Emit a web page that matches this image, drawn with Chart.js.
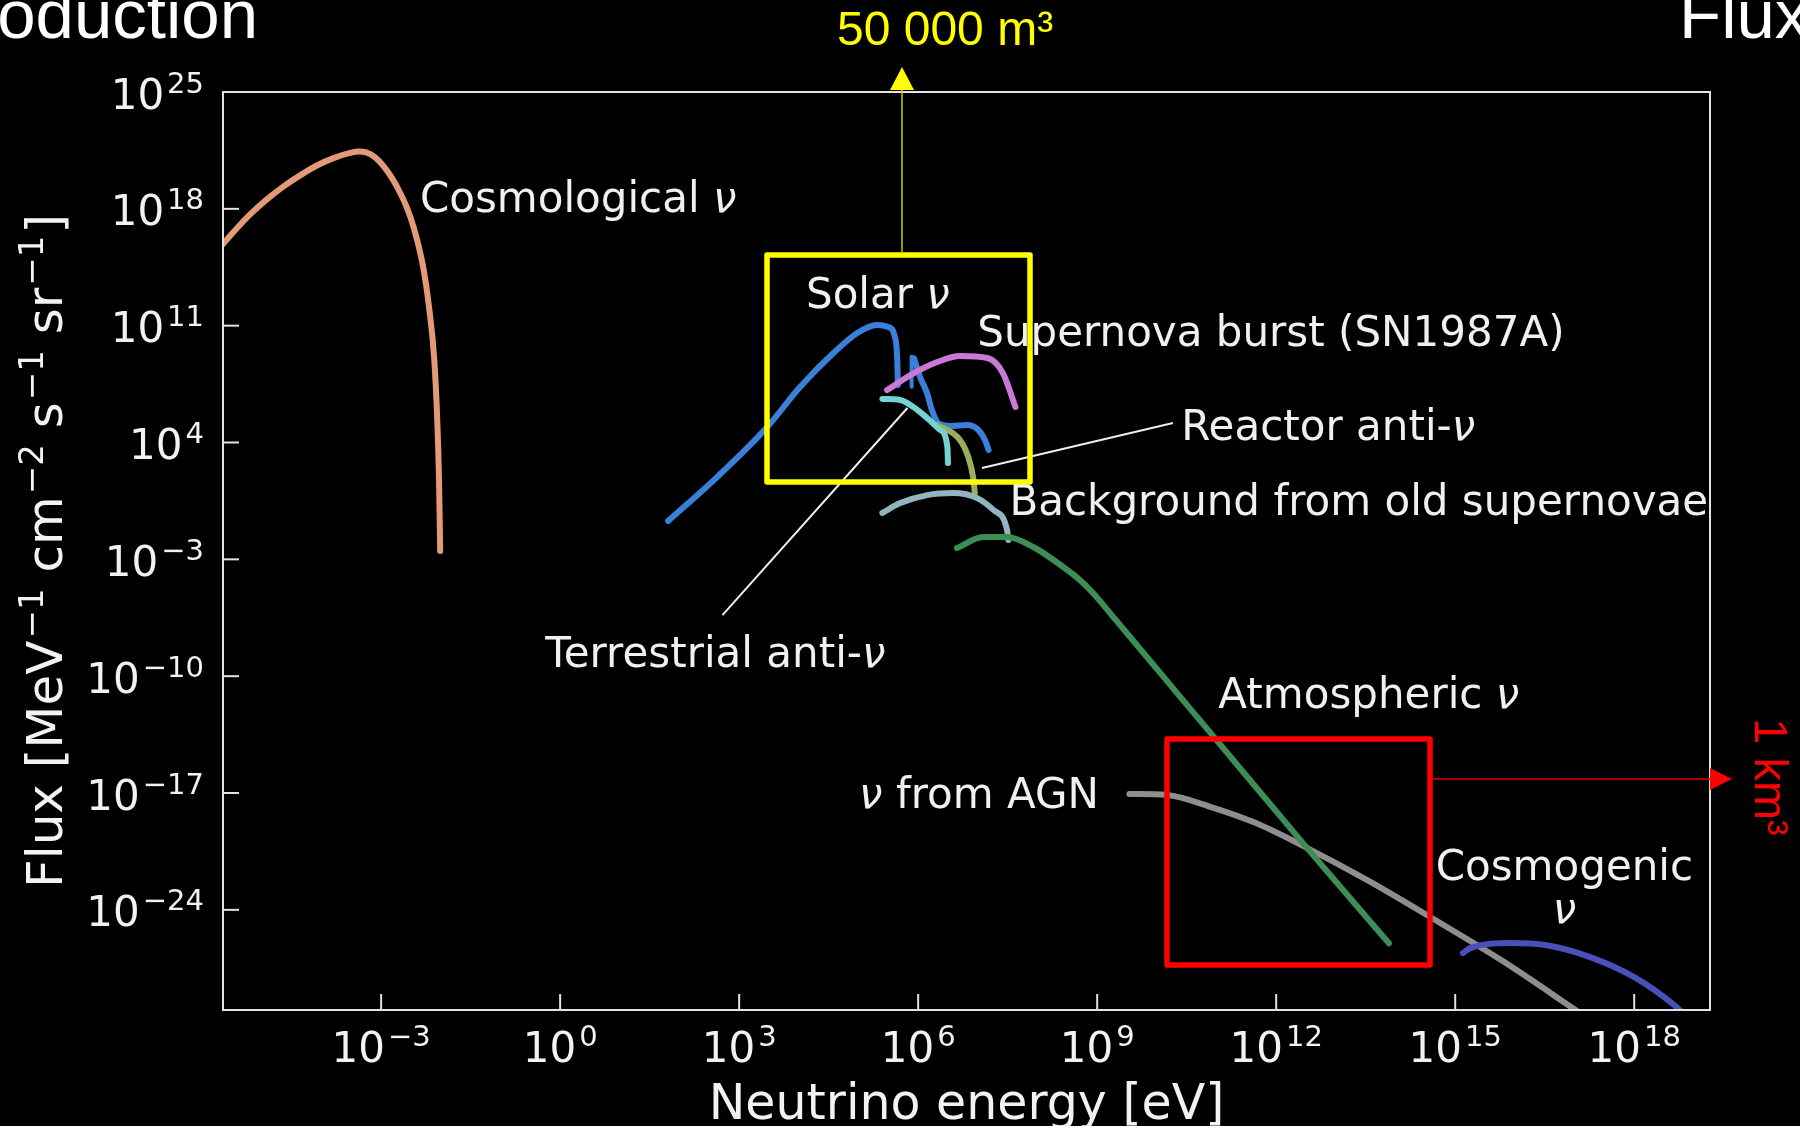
<!DOCTYPE html>
<html><head><meta charset="utf-8">
<script src="https://cdn.jsdelivr.net/npm/chart.js@4.4.1/dist/chart.umd.min.js"></script>
<style>html,body{margin:0;padding:0;background:#000;overflow:hidden}</style>
</head><body>
<canvas id="c" width="1800" height="1126"></canvas>
<script>
// axis ranges and ticks (log10 values)
const X_MIN=-5.65,X_MAX=19.27,Y_MIN=-30,Y_MAX=25;
const X_TICKS=[-3,0,3,6,9,12,15,18];
const Y_TICKS=[25,18,11,4,-3,-10,-17,-24];

// curves: log10(energy / eV) and log10(flux)
const cosmoE=[-5.65,-5.42,-5.20,-4.92,-4.64,-4.35,-4.07,-3.80,-3.52,-3.38,-3.25,-3.10,-2.97,-2.82,-2.68,-2.56,-2.46,-2.30,-2.20,-2.11,-2.06,-2.03,-2.01];
const cosmoF=[15.9,16.82,17.65,18.55,19.33,20.02,20.61,21.04,21.35,21.44,21.38,21.08,20.6,19.85,18.95,18.0,16.95,14.6,12.2,9.0,5.4,1.8,-2.5];
const solarE=[1.81,2.63,3.47,4.02,4.58,4.98,5.31,5.50,5.61,5.65,5.66];
const solarF=[-0.70,1.93,4.93,7.32,9.36,10.56,11.04,10.92,10.32,8.94,7.44];
const beE=[5.89,5.89];
const beF=[9.14,7.34];
const boronE=[5.93,6.03,6.15,6.23,6.34,6.54,6.82,7.01,7.12,7.18];
const boronF=[9.05,7.94,6.95,5.95,5.15,4.99,5.05,4.75,4.15,3.55];
const snE=[5.48,5.87,6.32,6.70,7.16,7.42,7.63];
const snF=[7.14,8.04,8.82,9.18,9.06,8.16,6.13];
const terrE=[5.40,5.70,5.92,6.15,6.37,6.49,6.50];
const terrF=[6.61,6.55,6.13,5.47,4.75,3.73,2.77];
const reacE=[6.32,6.70,6.84,6.92,6.95];
const reacF=[5.05,4.15,3.13,1.93,0.97];
const bgE=[5.40,5.70,6.15,6.59,6.99,7.26,7.49,7.51];
const bgF=[-0.22,0.37,0.85,0.97,0.67,-0.04,-1.24,-1.84];
const atmE=[6.65,7.09,7.49,7.93,8.50,8.71,8.93,9.30,9.69,10.06,10.99,12.49,13.89];
const atmF=[-2.32,-1.66,-1.66,-2.26,-3.64,-4.24,-5.02,-6.58,-8.24,-9.82,-13.79,-20.18,-26.0];
const agnE=[9.54,10.17,10.91,11.66,12.49,13.52,14.58,15.77,17.10];
const agnF=[-17.06,-17.12,-17.84,-18.80,-20.24,-22.21,-24.43,-27.01,-30.2];
const cosmogE=[15.13,15.25,15.92,16.51,17.26,18.00,18.67,18.85];
const cosmogF=[-26.59,-26.29,-25.99,-26.11,-26.83,-28.03,-29.70,-30.3];

// text labels in data coords (log10 E, log10 flux of baseline)
const LABELS=[
  ['Cosmological ν',-2.35,17.81,'left'],
  ['Solar ν',4.12,12.06,'left'],
  ['Supernova burst (SN1987A)',6.99,9.78,'left'],
  ['Reactor anti-ν',10.41,4.15,'left'],
  ['Background from old supernovae',7.53,-0.34,'left'],
  ['Terrestrial anti-ν',-0.25,-9.45,'left'],
  ['Atmospheric ν',11.03,-11.91,'left'],
  ['ν from AGN',5.01,-17.90,'left'],
  ['Cosmogenic',16.83,-22.21,'center'],
  ['ν',16.83,-24.79,'center']
];
const POINTERS=[[2.72,-6.34,5.82,6.07],[10.27,5.17,7.07,2.47]];

const pts=(e,f)=>e.map((v,i)=>({x:Math.pow(10,v),y:Math.pow(10,f[i])}));
const SERIES=[
  {data:pts(cosmoE,cosmoF),borderColor:'#e39a76'},
  {data:pts(solarE,solarF),borderColor:'#3b80d8'},
  {data:pts(beE,beF),borderColor:'#3b80d8',borderWidth:4,cubicInterpolationMode:'default',tension:0},
  {data:pts(boronE,boronF),borderColor:'#3b80d8'},
  {data:pts(snE,snF),borderColor:'#c97ad6'},
  {data:pts(reacE,reacF),borderColor:'#9aae5c'},
  {data:pts(terrE,terrF),borderColor:'#74d3d0'},
  {data:pts(bgE,bgF),borderColor:'#93b4be'},
  {data:pts(agnE,agnF),borderColor:'#8e8e8e'},
  {data:pts(atmE,atmF),borderColor:'#3d8d57'},
  {data:pts(cosmogE,cosmogF),borderColor:'#4a50ba'}
].reverse();

const FF='"DejaVu Sans"';
function runs(ctx,parts,x,y,align){
  let w=0;parts.forEach(p=>{ctx.font=p[1];w+=ctx.measureText(p[0]).width+(p[3]||0)});
  let cx=align==='center'?x-w/2:align==='right'?x-w:x;
  parts.forEach(p=>{ctx.font=p[1];cx+=(p[3]||0);ctx.fillText(p[0],cx,y+(p[2]||0));cx+=ctx.measureText(p[0]).width});
}
function nuParts(s,size){
  const out=[];
  s.split('ν').forEach((t,i,a)=>{if(t)out.push([t,size+'px '+FF]);if(i<a.length-1)out.push(['ν','italic '+size+'px '+FF])});
  return out;
}
function pow(k){return [['10','42px '+FF],[(k<0?'\u2212':'')+Math.abs(k),'29px '+FF,-16,3]]}

const deco={id:'deco',
  beforeDraw(c){const ctx=c.ctx;ctx.save();ctx.fillStyle='#000';ctx.fillRect(0,0,c.width,c.height);ctx.restore()},
  afterDraw(c){
    const ctx=c.ctx,a=c.chartArea,xs=c.scales.x,ys=c.scales.y;
    const X=v=>xs.getPixelForValue(Math.pow(10,v)),Y=v=>ys.getPixelForValue(Math.pow(10,v));
    ctx.save();
    ctx.textAlign='left';ctx.textBaseline='alphabetic';
    // frame + ticks
    ctx.strokeStyle='#e2e2e2';ctx.lineWidth=2;
    ctx.strokeRect(a.left,a.top,a.right-a.left,a.bottom-a.top);
    ctx.fillStyle='#f2f2f2';
    X_TICKS.forEach(k=>{const px=X(k);ctx.beginPath();ctx.moveTo(px,a.bottom);ctx.lineTo(px,a.bottom-16);ctx.stroke();runs(ctx,pow(k),px,a.bottom+52,'center')});
    Y_TICKS.forEach(k=>{const py=Y(k);ctx.beginPath();ctx.moveTo(a.left,py);ctx.lineTo(a.left+16,py);ctx.stroke();runs(ctx,pow(k),a.left-19,py+16.5,'right')});
    // axis titles
    runs(ctx,[['Neutrino energy [eV]','49px '+FF]],(a.left+a.right)/2,1119,'center');
    ctx.save();ctx.translate(62,(a.top+a.bottom)/2);ctx.rotate(-Math.PI/2);
    const m='50px '+FF,s='34px '+FF;
    runs(ctx,[['Flux [MeV',m],['\u22121',s,-19,2],[' cm',m],['\u22122',s,-19,2],[' s',m],['\u22121',s,-19,2],[' sr',m],['\u22121',s,-19,2],[']',m,0,2]],0,0,'center');
    ctx.restore();
    // curve labels and pointers
    ctx.fillStyle='#f0f0f0';
    LABELS.forEach(l=>runs(ctx,nuParts(l[0],42),X(l[1]),Y(l[2]),l[3]));
    ctx.strokeStyle='#eeeeee';ctx.lineWidth=2;
    POINTERS.forEach(p=>{ctx.beginPath();ctx.moveTo(X(p[0]),Y(p[1]));ctx.lineTo(X(p[2]),Y(p[3]));ctx.stroke()});
    // slide overlays
    ctx.lineJoin='round';
    ctx.strokeStyle='#ffff00';ctx.lineWidth=5.5;ctx.strokeRect(767,255,263,227);
    ctx.strokeStyle='#c8c800';ctx.lineWidth=1.5;ctx.beginPath();ctx.moveTo(902,253);ctx.lineTo(902,88);ctx.stroke();
    ctx.fillStyle='#ffff00';ctx.beginPath();ctx.moveTo(902,67);ctx.lineTo(890,90);ctx.lineTo(914,90);ctx.closePath();ctx.fill();
    ctx.font='48px "Liberation Sans"';ctx.fillText('50 000 m³',837,45);
    ctx.strokeStyle='#ff0000';ctx.lineWidth=5.5;ctx.strokeRect(1167,739,263,226);
    ctx.strokeStyle='#e00000';ctx.lineWidth=1.5;ctx.beginPath();ctx.moveTo(1432,779);ctx.lineTo(1712,779);ctx.stroke();
    ctx.fillStyle='#ff0000';ctx.beginPath();ctx.moveTo(1732,779);ctx.lineTo(1710,768);ctx.lineTo(1710,790);ctx.closePath();ctx.fill();
    ctx.save();ctx.translate(1755,777);ctx.rotate(Math.PI/2);ctx.textAlign='center';ctx.font='47px "Liberation Sans"';ctx.fillText('1 km³',0,0);ctx.restore();
    ctx.fillStyle='#ffffff';ctx.font='69px "Liberation Sans"';
    ctx.textAlign='right';ctx.fillText('oduction',258,38);
    ctx.textAlign='left';ctx.fillText('Flux',1679,38);
    ctx.restore();
  }
};

new Chart(document.getElementById('c'),{
  type:'line',
  data:{datasets:SERIES},
  options:{
    responsive:false,animation:false,devicePixelRatio:1,
    layout:{padding:{left:223,right:90,top:92,bottom:116}},
    plugins:{legend:{display:false},tooltip:{enabled:false}},
    datasets:{line:{clip:0}},
    elements:{point:{radius:0,hoverRadius:0},line:{borderWidth:6,cubicInterpolationMode:'monotone',borderCapStyle:'round',borderJoinStyle:'round',fill:false}},
    scales:{
      x:{type:'logarithmic',display:false,bounds:'data',min:Math.pow(10,X_MIN),max:Math.pow(10,X_MAX)},
      y:{type:'logarithmic',display:false,bounds:'data',min:Math.pow(10,Y_MIN),max:Math.pow(10,Y_MAX)}
    }
  },
  plugins:[deco]
});
</script>
</body></html>
